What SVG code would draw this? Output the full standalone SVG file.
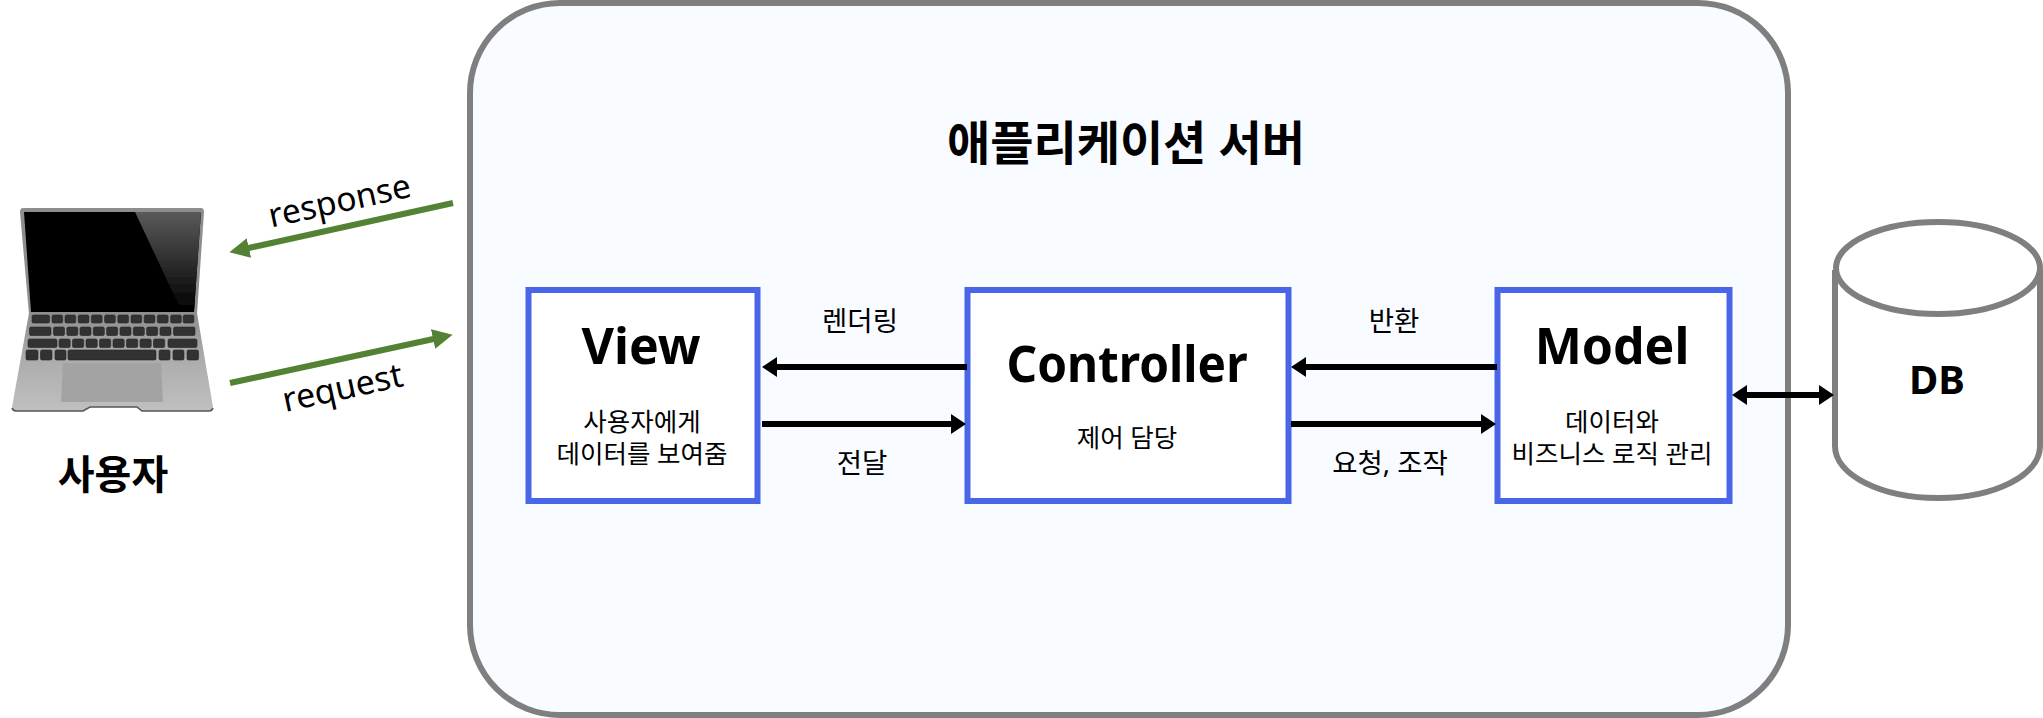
<svg xmlns="http://www.w3.org/2000/svg" width="2043" height="718" viewBox="0 0 2043 718">
<style>
text{font-family:"Noto Sans","Noto Sans CJK KR",sans-serif;fill:#000;text-anchor:middle}
.b{font-weight:700}
.h{font-size:50px;font-weight:700}
.s{font-size:25.5px}
.l{font-size:27.5px}
.box{fill:#fff;stroke:#4a66e8;stroke-width:6}
.gr{fill:none;stroke:#7f7f7f;stroke-width:6}
.k{fill:#333;stroke:#242424;stroke-width:.6}
.ar{stroke:#000;stroke-width:6;fill:none}
.ga{stroke:#548235;stroke-width:6;fill:none}
</style>
<defs>
<marker id="mk" markerUnits="userSpaceOnUse" markerWidth="16" markerHeight="20" refX="4" refY="10" orient="auto-start-reverse"><path d="M0 0L15 10L0 20Z" fill="#000"/></marker>
<marker id="mg" markerUnits="userSpaceOnUse" markerWidth="21" markerHeight="22" refX="4" refY="11" orient="auto"><path d="M0 1L20 11L0 21Z" fill="#548235"/></marker>
<linearGradient id="gl" x1="0" y1="0" x2="0" y2="1"><stop offset="0" stop-color="#5a5a5a"/><stop offset="1" stop-color="#000"/></linearGradient>
<linearGradient id="bs" x1="0" y1="0" x2="0" y2="1"><stop offset="0" stop-color="#8f8f8f"/><stop offset=".5" stop-color="#adadad"/><stop offset="1" stop-color="#c0c0c0"/></linearGradient>
<filter id="sf" x="-5%" y="-5%" width="110%" height="110%"><feGaussianBlur stdDeviation=".45"/></filter>
</defs>

<g id="server">
<rect x="470" y="3" width="1318" height="712" rx="90" fill="#f8fbff" stroke="#7f7f7f" stroke-width="6"/>
<text x="1126" y="160" class="b" font-size="47">애플리케이션 서버</text>
</g>

<g id="user">
<g filter="url(#sf)">
<path d="M23 208H201Q204 208 204 212L197 314H29L20 212Q20 208 23 208Z" fill="#8e8e8e"/>
<path d="M24 212H201L194 312H31Z" fill="#000"/>
<path d="M135 212H201L194 312H182Z" fill="url(#gl)"/>
<path d="M29 313H197L213 407Q213 411 209 411H142L137 407H90L83 411H16Q12 411 12 407Z" fill="url(#bs)"/>
<path d="M12 408Q13 411 16 411H83L90 407H137L142 411H209Q212 411 213 408" fill="none" stroke="#555" stroke-width="1.5"/>
<path d="M63 363H161L163 402H61Z" fill="#a3a3a3"/>
<rect class="k" x="32" y="315" width="17.5" height="8" rx="1.5"/>
<rect class="k" x="52" y="315" width="10.7" height="8" rx="1.5"/>
<rect class="k" x="65" y="315" width="10.7" height="8" rx="1.5"/>
<rect class="k" x="78.2" y="315" width="10.7" height="8" rx="1.5"/>
<rect class="k" x="91.4" y="315" width="10.7" height="8" rx="1.5"/>
<rect class="k" x="104.6" y="315" width="10.7" height="8" rx="1.5"/>
<rect class="k" x="117.8" y="315" width="10.7" height="8" rx="1.5"/>
<rect class="k" x="131" y="315" width="10.7" height="8" rx="1.5"/>
<rect class="k" x="144.2" y="315" width="10.7" height="8" rx="1.5"/>
<rect class="k" x="157.4" y="315" width="10.7" height="8" rx="1.5"/>
<rect class="k" x="170.6" y="315" width="10.7" height="8" rx="1.5"/>
<rect class="k" x="183.2" y="315" width="10.7" height="8" rx="1.5"/>
<rect class="k" x="29.5" y="327" width="21.5" height="8.5" rx="1.5"/>
<rect class="k" x="53.5" y="327" width="11" height="8.5" rx="1.5"/>
<rect class="k" x="66.8" y="327" width="11" height="8.5" rx="1.5"/>
<rect class="k" x="80" y="327" width="11" height="8.5" rx="1.5"/>
<rect class="k" x="93.3" y="327" width="11" height="8.5" rx="1.5"/>
<rect class="k" x="106.6" y="327" width="11" height="8.5" rx="1.5"/>
<rect class="k" x="120" y="327" width="11" height="8.5" rx="1.5"/>
<rect class="k" x="133.3" y="327" width="11" height="8.5" rx="1.5"/>
<rect class="k" x="146.6" y="327" width="11" height="8.5" rx="1.5"/>
<rect class="k" x="160" y="327" width="11" height="8.5" rx="1.5"/>
<rect class="k" x="173.5" y="327" width="21.5" height="8.5" rx="1.5"/>
<rect class="k" x="28" y="339" width="29" height="8.5" rx="1.5"/>
<rect class="k" x="59" y="339" width="11.2" height="8.5" rx="1.5"/>
<rect class="k" x="72.5" y="339" width="11.2" height="8.5" rx="1.5"/>
<rect class="k" x="86" y="339" width="11.2" height="8.5" rx="1.5"/>
<rect class="k" x="99.5" y="339" width="11.2" height="8.5" rx="1.5"/>
<rect class="k" x="113" y="339" width="11.2" height="8.5" rx="1.5"/>
<rect class="k" x="126.5" y="339" width="11.2" height="8.5" rx="1.5"/>
<rect class="k" x="140" y="339" width="11.2" height="8.5" rx="1.5"/>
<rect class="k" x="153.5" y="339" width="11.2" height="8.5" rx="1.5"/>
<rect class="k" x="168" y="339" width="29" height="8.5" rx="1.5"/>
<rect class="k" x="26" y="350" width="12" height="10" rx="1.5"/>
<rect class="k" x="40.5" y="350" width="11.5" height="10" rx="1.5"/>
<rect class="k" x="55" y="350" width="11" height="10" rx="1.5"/>
<rect class="k" x="68" y="350" width="88" height="10" rx="1.5"/>
<rect class="k" x="159" y="350" width="11" height="10" rx="1.5"/>
<rect class="k" x="173" y="350" width="11" height="10" rx="1.5"/>
<rect class="k" x="187" y="350" width="11.5" height="10" rx="1.5"/>
</g>
<text x="113" y="489" class="b" font-size="40">사용자</text>
</g>

<g id="view">
<rect class="box" x="528.5" y="290" width="229" height="211"/>
<text x="641" y="364" class="h">View</text>
<text x="642" y="431" class="s">사용자에게</text>
<text x="642" y="463" class="s">데이터를 보여줌</text>
</g>

<g id="controller">
<rect class="box" x="967.5" y="290" width="321" height="211"/>
<text x="1127" y="382" class="h" textLength="241" lengthAdjust="spacingAndGlyphs">Controller</text>
<text x="1127" y="447" class="s">제어 담당</text>
</g>

<g id="model">
<rect class="box" x="1497.5" y="290" width="232" height="211"/>
<text x="1612" y="364" class="h">Model</text>
<text x="1612" y="431" class="s">데이터와</text>
<text x="1612" y="463" class="s">비즈니스 로직 관리</text>
</g>

<g id="db">
<path class="gr" d="M1835 270V446C1835 475 1881 498 1938 498S2040 475 2040 446V270"/>
<ellipse class="gr" cx="1938" cy="268" rx="102" ry="46"/>
<text x="1937" y="394" class="b" font-size="40">DB</text>
</g>

<g id="connectors">
<path class="ar" d="M967 367H773" marker-end="url(#mk)"/>
<path class="ar" d="M762 424H955" marker-end="url(#mk)"/>
<path class="ar" d="M1497 367H1302" marker-end="url(#mk)"/>
<path class="ar" d="M1291 424H1485" marker-end="url(#mk)"/>
<path class="ar" d="M1743 395H1823" marker-start="url(#mk)" marker-end="url(#mk)"/>
<path class="ga" d="M453 203L245 248.8" marker-end="url(#mg)"/>
<path class="ga" d="M230 383L437 338.2" marker-end="url(#mg)"/>
</g>

<g id="labels">
<text x="860" y="331" class="l">렌더링</text>
<text x="862" y="473" class="l">전달</text>
<text x="1394" y="331" class="l">반환</text>
<text x="1390" y="473" class="l">요청, 조작</text>
<text transform="translate(342 212) rotate(-12.4)" font-size="33.5">response</text>
<text transform="translate(345 399) rotate(-12.4)" font-size="34">request</text>
</g>
</svg>
